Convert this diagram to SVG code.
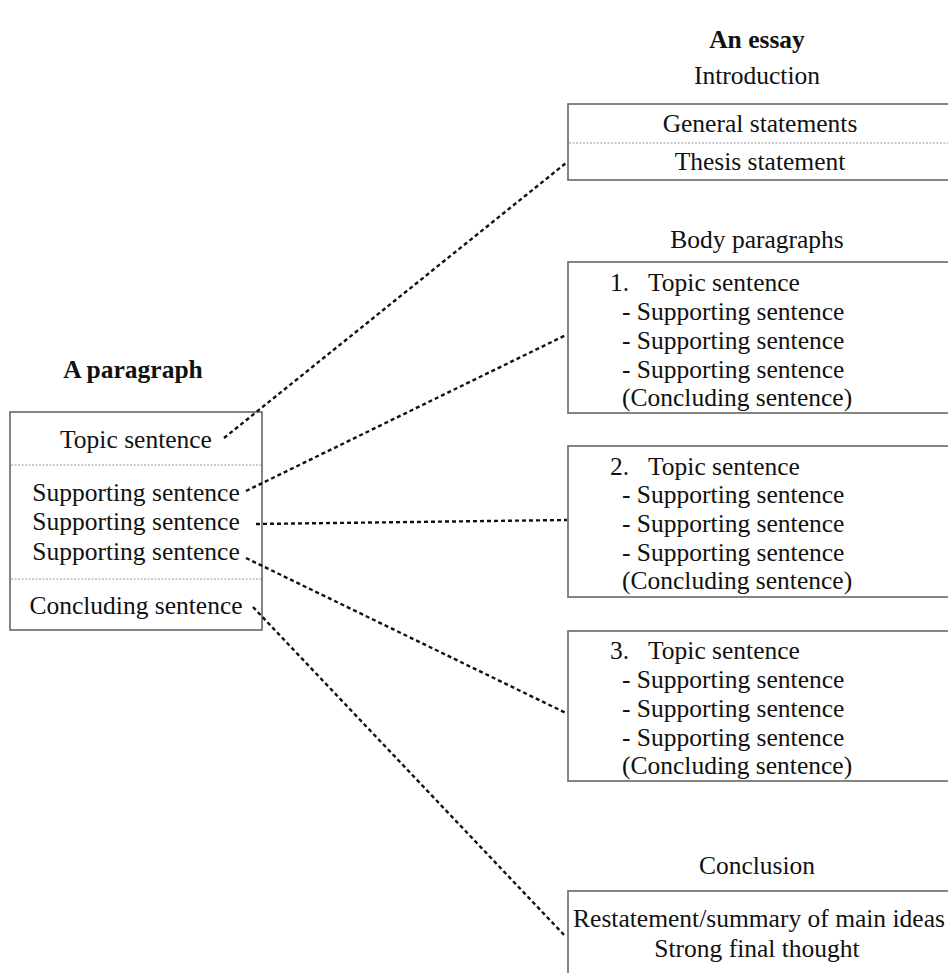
<svg xmlns="http://www.w3.org/2000/svg" width="948" height="973" viewBox="0 0 948 973">
<style>
text{font-family:"Liberation Serif","Times New Roman",serif;font-size:25.5px;fill:#111}
.h{font-weight:bold}
.c{text-anchor:middle}
.box{fill:none;stroke:#666;stroke-width:1.6}
.div{stroke:#999;stroke-width:1;stroke-dasharray:2 1.5}
.con{stroke:#111;stroke-width:2.4;stroke-dasharray:4 3;fill:none}
</style>
<rect width="948" height="973" fill="#fff"/>
<g id="paragraph">
<text class="h c" x="133" y="378">A paragraph</text>
<rect class="box" x="10" y="412" width="252" height="218"/>
<line class="div" x1="11" y1="465" x2="261" y2="465"/>
<line class="div" x1="11" y1="579" x2="261" y2="579"/>
<text class="c" x="136" y="448">Topic sentence</text>
<text class="c" x="136" y="501">Supporting sentence</text>
<text class="c" x="136" y="530">Supporting sentence</text>
<text class="c" x="136" y="560">Supporting sentence</text>
<text class="c" x="136" y="614">Concluding sentence</text>
</g>
<g id="essay-title">
<text class="h c" x="757" y="48">An essay</text>
</g>
<g id="introduction">
<text class="c" x="757" y="84">Introduction</text>
<rect class="box" x="568" y="104" width="390" height="76"/>
<line class="div" x1="569" y1="143" x2="948" y2="143"/>
<text class="c" x="760" y="132">General statements</text>
<text class="c" x="760" y="170">Thesis statement</text>
</g>
<g id="body-heading">
<text class="c" x="757" y="248">Body paragraphs</text>
</g>
<g id="body1">
<rect class="box" x="568" y="262" width="390" height="151"/>
<text x="610" y="291">1.</text><text x="648" y="291">Topic sentence</text>
<text x="622" y="320">- Supporting sentence</text>
<text x="622" y="349">- Supporting sentence</text>
<text x="622" y="378">- Supporting sentence</text>
<text x="622" y="406">(Concluding sentence)</text>
</g>
<g id="body2">
<rect class="box" x="568" y="446" width="390" height="151"/>
<text x="610" y="475">2.</text><text x="648" y="475">Topic sentence</text>
<text x="622" y="503">- Supporting sentence</text>
<text x="622" y="532">- Supporting sentence</text>
<text x="622" y="561">- Supporting sentence</text>
<text x="622" y="589">(Concluding sentence)</text>
</g>
<g id="body3">
<rect class="box" x="568" y="631" width="390" height="150"/>
<text x="610" y="659">3.</text><text x="648" y="659">Topic sentence</text>
<text x="622" y="688">- Supporting sentence</text>
<text x="622" y="717">- Supporting sentence</text>
<text x="622" y="746">- Supporting sentence</text>
<text x="622" y="774">(Concluding sentence)</text>
</g>
<g id="conclusion">
<text class="c" x="757" y="874">Conclusion</text>
<rect class="box" x="568" y="891" width="390" height="100"/>
<text class="c" x="759" y="927">Restatement/summary of main ideas</text>
<text class="c" x="757" y="957">Strong final thought</text>
</g>
<g id="connectors">
<line class="con" x1="224" y1="438" x2="566" y2="163"/>
<line class="con" x1="246" y1="491" x2="566" y2="335"/>
<line class="con" x1="256" y1="524" x2="567" y2="520"/>
<line class="con" x1="246" y1="558" x2="566" y2="713"/>
<line class="con" x1="253" y1="607" x2="566" y2="937"/>
</g>
</svg>
